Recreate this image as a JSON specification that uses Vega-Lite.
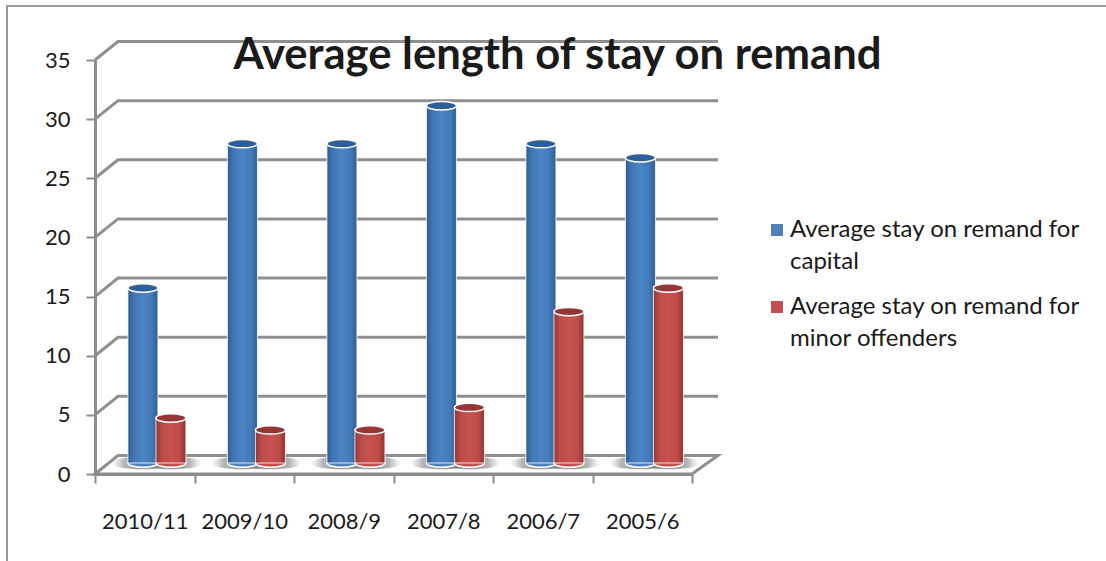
{
  "$schema": "https://vega.github.io/schema/vega-lite/v6.json",
  "width": 597,
  "height": 414,
  "autosize": {"type": "none"},
  "padding": {"left": 95, "top": 60, "right": 414, "bottom": 87},
  "background": "white",
  "title": {
    "text": "Average length of stay on remand",
    "anchor": "middle",
    "dx": 164,
    "dy": 81,
    "font": "Lato",
    "fontWeight": "bold",
    "fontSize": 43.6,
    "color": "#1a1a1a",
    "zindex": 1
  },
  "datasets": {
    "stays": [
      {"period": "2010/11", "series": "capital", "value": 14.8},
      {"period": "2009/10", "series": "capital", "value": 27},
      {"period": "2008/9", "series": "capital", "value": 27},
      {"period": "2007/8", "series": "capital", "value": 30.2},
      {"period": "2006/7", "series": "capital", "value": 27},
      {"period": "2005/6", "series": "capital", "value": 25.8},
      {"period": "2010/11", "series": "minor", "value": 3.8},
      {"period": "2009/10", "series": "minor", "value": 2.8},
      {"period": "2008/9", "series": "minor", "value": 2.8},
      {"period": "2007/8", "series": "minor", "value": 4.7},
      {"period": "2006/7", "series": "minor", "value": 12.8},
      {"period": "2005/6", "series": "minor", "value": 14.8}
    ],
    "levels": [
      {"level": 5}, {"level": 10}, {"level": 15}, {"level": 20},
      {"level": 25}, {"level": 30}, {"level": 35}
    ],
    "floor": [{"level": 0}],
    "frame": [{"level": 35}]
  },
  "data": {"name": "stays"},
  "encoding": {
    "x": {
      "field": "period",
      "type": "nominal",
      "sort": null,
      "scale": {"domain": ["2010/11", "2009/10", "2008/9", "2007/8", "2006/7", "2005/6"], "paddingInner": 0, "paddingOuter": 0},
      "axis": {
        "title": null,
        "labelAngle": 0,
        "labelPadding": 28,
        "tickBand": "extent",
        "tickSize": 9,
        "tickWidth": 2,
        "domainWidth": 3,
        "domainColor": "#8c8c8c",
        "tickColor": "#8c8c8c",
        "labelFont": "Lato",
        "labelFontSize": 22,
        "labelColor": "#1a1a1a",
        "zindex": 1
      }
    },
    "y": {
      "field": "value",
      "type": "quantitative",
      "scale": {"domain": [0, 35], "nice": false},
      "axis": {
        "title": null,
        "values": [0, 5, 10, 15, 20, 25, 30, 35],
        "grid": false,
        "labelPadding": 16,
        "tickSize": 9,
        "tickWidth": 2,
        "domainWidth": 3,
        "domainColor": "#8c8c8c",
        "tickColor": "#8c8c8c",
        "labelFont": "Lato",
        "labelFontSize": 22,
        "labelColor": "#1a1a1a",
        "zindex": 1
      }
    },
    "xOffset": {
      "field": "series",
      "type": "nominal",
      "scale": {"domain": ["capital", "minor"], "paddingInner": 0, "paddingOuter": 0.777, "align": 0.78}
    }
  },
  "layer": [
    {
      "data": {"name": "frame"},
      "mark": {"type": "point", "shape": "M-88,501L-88,-54L1011,-54", "size": 4, "filled": false, "stroke": "#9a9a9a", "strokeWidth": 2, "opacity": 1},
      "encoding": {
        "x": {"datum": "2010/11", "type": "nominal", "bandPosition": 0},
        "y": {"field": "level", "type": "quantitative"},
        "xOffset": {"value": 0}
      }
    },
    {
      "data": {"name": "levels"},
      "mark": {"type": "point", "shape": "M0,0L23,-18.5L623,-18.5", "size": 4, "filled": false, "stroke": "#8f8f8f", "strokeWidth": 3, "opacity": 1},
      "encoding": {
        "x": {"datum": "2010/11", "type": "nominal", "bandPosition": 0},
        "y": {"field": "level", "type": "quantitative"},
        "xOffset": {"value": 0}
      }
    },
    {
      "data": {"name": "floor"},
      "mark": {"type": "point", "shape": "M0,0L23,-18.5L623,-18.5L597,0Z", "size": 4, "filled": true, "fill": "white", "stroke": "#8f8f8f", "strokeWidth": 3, "opacity": 1},
      "encoding": {
        "x": {"datum": "2010/11", "type": "nominal", "bandPosition": 0},
        "y": {"field": "level", "type": "quantitative"},
        "xOffset": {"value": 0}
      }
    },
    {
      "mark": {
        "type": "point",
        "shape": "M-1,0A1,0.2 0 1 1 1,0A1,0.2 0 1 1 -1,0Z",
        "size": 4000,
        "filled": true,
        "strokeWidth": 0,
        "opacity": 1,
        "yOffset": -11,
        "fill": {"gradient": "radial", "x1": 0.5, "y1": 0.5, "r1": 0, "x2": 0.5, "y2": 0.5, "r2": 0.5, "stops": [
          {"offset": 0, "color": "rgba(110,110,110,0.75)"},
          {"offset": 0.6, "color": "rgba(120,120,120,0.55)"},
          {"offset": 1, "color": "rgba(160,160,160,0)"}
        ]}
      },
      "encoding": {"y": {"datum": 0, "type": "quantitative"}}
    },
    {
      "mark": {"type": "point", "shape": "M-1,0A1,0.28 0 1 1 1,0A1,0.28 0 1 1 -1,0Z", "size": 900, "filled": true, "opacity": 1, "stroke": "white", "strokeWidth": 1.5, "yOffset": -11},
      "encoding": {
        "y": {"datum": 0, "type": "quantitative"},
        "color": {
          "field": "series",
          "type": "nominal",
          "scale": {"domain": ["capital", "minor"], "range": ["#4f81bd", "#c0504d"]},
          "legend": {
            "title": null,
            "orient": "none",
            "legendX": 670,
            "legendY": 158,
            "symbolType": "square",
            "symbolSize": 144,
            "symbolOpacity": 1,
            "symbolStrokeWidth": 0,
            "labelFont": "Lato",
            "labelFontSize": 24,
            "labelColor": "#1a1a1a",
            "labelLimit": 400,
            "labelOffset": 1,
            "rowPadding": 21,
            "labelExpr": "datum.label === 'capital' ? ['Average stay on remand for', 'capital'] : ['Average stay on remand for', 'minor offenders']"
          }
        }
      }
    },
    {
      "transform": [{"filter": "datum.series === 'capital'"}],
      "mark": {
        "type": "bar", "width": 30, "yOffset": -11, "y2Offset": -11,
        "stroke": "white", "strokeWidth": 0.8,
        "fill": {"x1": 0, "x2": 1, "y1": 0, "y2": 0, "gradient": "linear", "stops": [
          {"offset": 0, "color": "#2f5c92"},
          {"offset": 0.2, "color": "#4177b4"},
          {"offset": 0.5, "color": "#4c84c6"},
          {"offset": 0.8, "color": "#4279b6"},
          {"offset": 1, "color": "#2f5c92"}
        ]}
      }
    },
    {
      "transform": [{"filter": "datum.series === 'minor'"}],
      "mark": {
        "type": "bar", "width": 30, "yOffset": -11, "y2Offset": -11,
        "stroke": "white", "strokeWidth": 0.8,
        "fill": {"x1": 0, "x2": 1, "y1": 0, "y2": 0, "gradient": "linear", "stops": [
          {"offset": 0, "color": "#943634"},
          {"offset": 0.2, "color": "#bb4c49"},
          {"offset": 0.5, "color": "#c9524f"},
          {"offset": 0.8, "color": "#bb4c49"},
          {"offset": 1, "color": "#8c3331"}
        ]}
      }
    },
    {
      "mark": {"type": "point", "shape": "M-1,0A1,0.28 0 1 1 1,0A1,0.28 0 1 1 -1,0Z", "size": 900, "filled": true, "opacity": 1, "stroke": "white", "strokeWidth": 1.5, "yOffset": -11},
      "encoding": {
        "fill": {
          "field": "series",
          "type": "nominal",
          "scale": {"domain": ["capital", "minor"], "range": ["#2f5f99", "#943634"]},
          "legend": null
        }
      }
    }
  ],
  "resolve": {"scale": {"fill": "independent"}},
  "config": {
    "view": {"stroke": null},
    "style": {"guide-label": {"lineHeight": 32}}
  }
}
